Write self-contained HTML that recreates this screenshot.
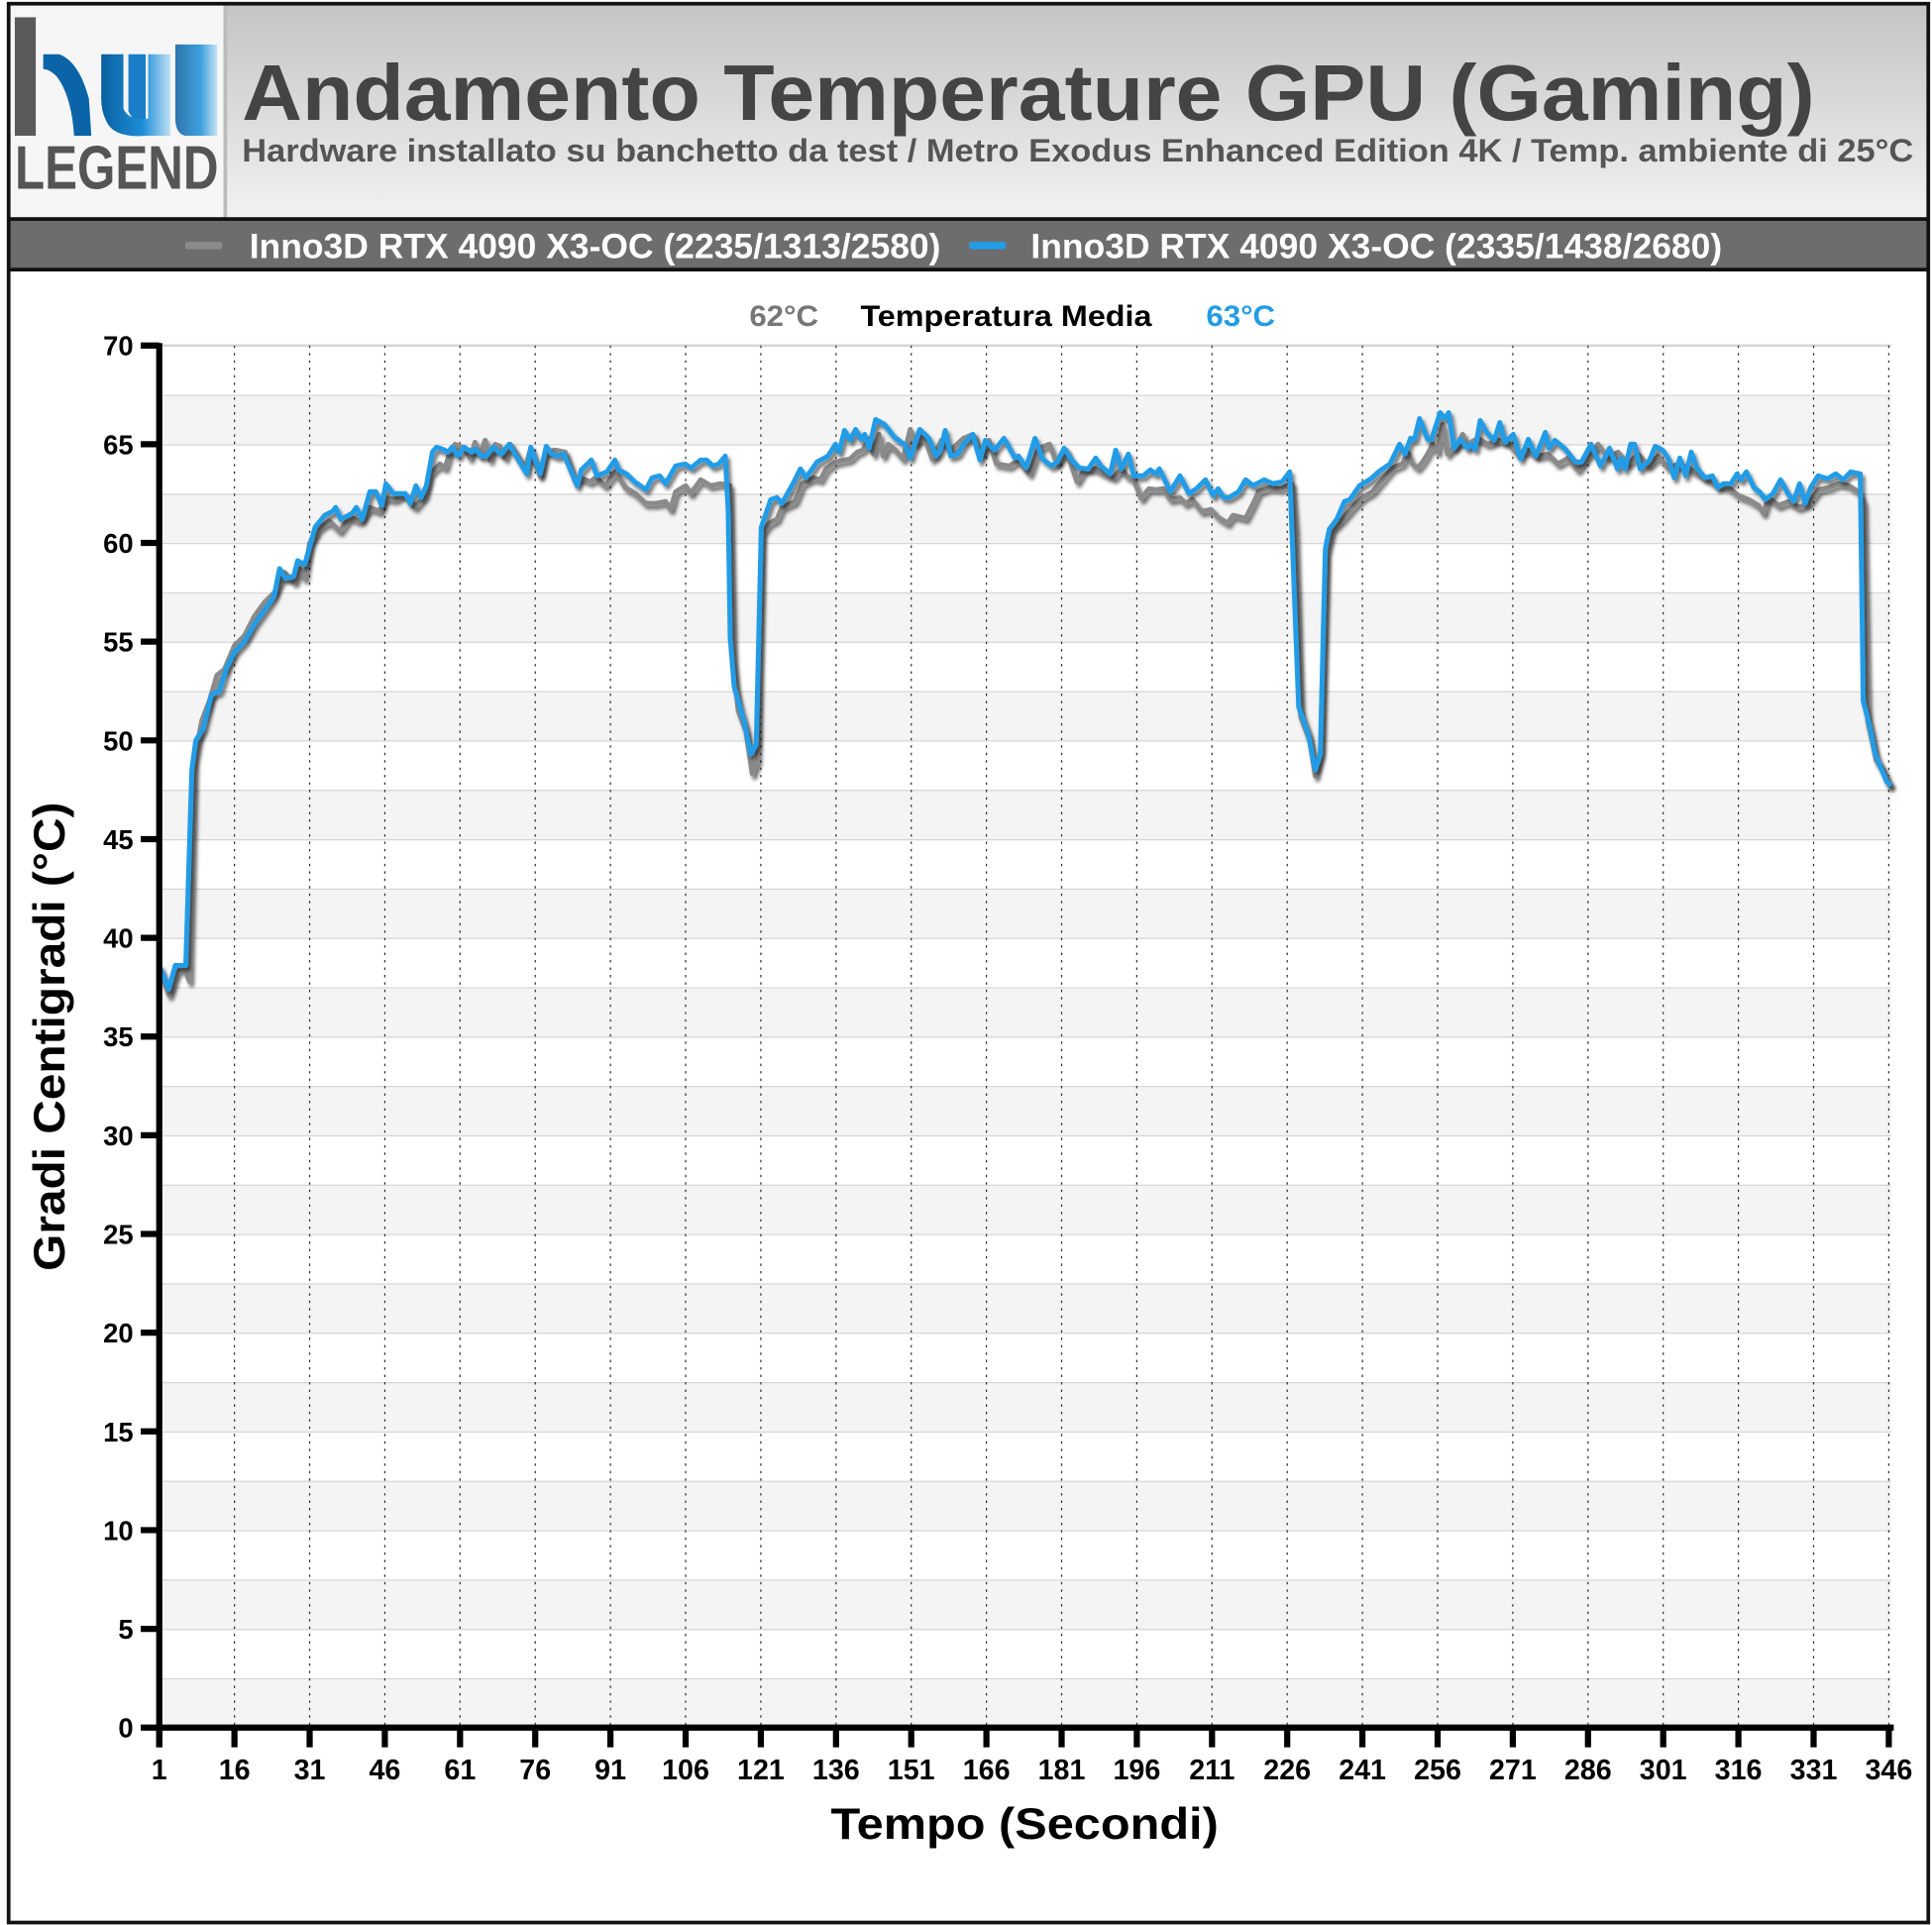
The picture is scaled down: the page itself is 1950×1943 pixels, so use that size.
<!DOCTYPE html>
<html><head><meta charset="utf-8">
<style>
html,body{margin:0;padding:0;background:#fff;}
svg{display:block;}
text{font-family:"Liberation Sans",Arial,sans-serif;font-weight:bold;}
</style></head>
<body>
<svg id="chart" width="1950" height="1943" viewBox="0 0 1565 1560" preserveAspectRatio="none" xmlns="http://www.w3.org/2000/svg">
<defs>
<linearGradient id="hdr" x1="0" y1="0" x2="0" y2="1"><stop offset="0" stop-color="#c4c4c4"/><stop offset="1" stop-color="#f2f2f2"/></linearGradient>
<linearGradient id="logoBlue" x1="0" y1="0" x2="1" y2="0"><stop offset="0" stop-color="#0a5fa0"/><stop offset="0.6" stop-color="#1d8fd8"/><stop offset="1" stop-color="#bfe0f5"/></linearGradient>
<filter id="sh" x="-5%" y="-5%" width="110%" height="110%"><feDropShadow dx="2" dy="3" stdDeviation="1.5" flood-color="#000" flood-opacity="0.55"/></filter>
</defs>
<rect x="0" y="0" width="1565" height="1560" fill="#fff"/>
<rect x="7" y="3" width="1555" height="175" fill="url(#hdr)"/>
<g>
<rect x="7" y="3" width="176" height="175" fill="#f6f6f6"/>
<rect x="181" y="3" width="3" height="175" fill="#bbb"/>
<rect x="12" y="14" width="17" height="96" fill="#5a5a5a"/>
<path d="M35 44 L48 44 Q64 50 72 80 L74 110 L60 110 Q58 78 46 62 Q40 56 35 56 Z" fill="#0b64a8"/>
<path d="M90 44 L104 44 L104 90 Q108 100 118 98 L118 44 L132 44 Q120 40 132 44 L132 44 Z" fill="#1a7fc8"/>
<path d="M82 44 L100 44 L100 88 Q104 98 120 96 L120 44 L138 44 L138 110 L118 110 Q92 112 86 98 Q82 90 82 80 Z" fill="url(#logoBlue)"/>
<path d="M142 36 L176 36 L176 110 L150 110 Q142 108 142 96 Z" fill="url(#logoBlue)" opacity="0.85"/>
<text x="12" y="153" font-size="50" fill="#555" textLength="165" lengthAdjust="spacingAndGlyphs">LEGEND</text>
</g>
<text x="196" y="97" font-size="64" fill="#444" textLength="1274" lengthAdjust="spacingAndGlyphs">Andamento Temperature GPU (Gaming)</text>
<text x="196" y="131" font-size="26" fill="#555" textLength="1354" lengthAdjust="spacingAndGlyphs">Hardware installato su banchetto da test / Metro Exodus Enhanced Edition 4K / Temp. ambiente di 25°C</text>
<rect x="7" y="178" width="1555" height="41" fill="#6d6d6d"/>
<rect x="7" y="176" width="1555" height="3" fill="#111"/>
<rect x="7" y="217" width="1555" height="3" fill="#111"/>
<g>
<rect x="150" y="196" width="30" height="6" rx="2" fill="#8a8a8a"/>
<text x="202" y="209" font-size="28" fill="#fff" textLength="560" lengthAdjust="spacingAndGlyphs">Inno3D RTX 4090 X3-OC (2235/1313/2580)</text>
</g>
<g>
<rect x="785" y="196" width="30" height="6" rx="2" fill="#239ce6"/>
<text x="835" y="209" font-size="28" fill="#fff" textLength="560" lengthAdjust="spacingAndGlyphs">Inno3D RTX 4090 X3-OC (2335/1438/2680)</text>
</g>
<text x="607" y="264" font-size="24" fill="#777" textLength="56" lengthAdjust="spacingAndGlyphs">62°C</text>
<text x="697" y="264" font-size="24" fill="#000" textLength="236" lengthAdjust="spacingAndGlyphs">Temperatura Media</text>
<text x="977" y="264" font-size="24" fill="#239ce6" textLength="56" lengthAdjust="spacingAndGlyphs">63°C</text>
<g id="plot"></g>
<text transform="translate(52,840) rotate(-90)" text-anchor="middle" font-size="36" fill="#000" textLength="380" lengthAdjust="spacingAndGlyphs">Gradi Centigradi (°C)</text>
<text x="830" y="1490" text-anchor="middle" font-size="36" fill="#000" textLength="314" lengthAdjust="spacingAndGlyphs">Tempo (Secondi)</text>
<rect x="7" y="3" width="1555" height="1555" fill="none" stroke="#111" stroke-width="3"/>
</svg>
<script>
const xTickLabels = [1,16,31,46,61,76,91,106,121,136,151,166,181,196,211,226,241,256,271,286,301,316,331,346];
const yTickLabels = [0,5,10,15,20,25,30,35,40,45,50,55,60,65,70];
const blueTimes = [1,2.9,4.2,6.3,7.5,8.3,9.8,11.4,13,14.5,16.1,18,20,22.3,23.9,25,26.2,27.8,28.6,30,32.1,34,35.6,36.2,37.2,39.5,40.3,41.5,43,44.2,45.4,46.2,47.7,48.9,50.1,51.1,52.2,53.2,54.3,55.5,56.3,57.5,58.6,59.4,60.6,61.8,63.3,64.1,65.3,66.2,67.6,69.2,70.8,72.7,74.3,75.1,77,78.2,79.3,80.5,81.7,84.4,85.2,87.2,88.3,90.3,91.9,92.6,94.2,95.8,98.1,99.3,100.8,102,104,105.9,107.1,109,110.2,111.4,112.6,113.9,114.5,114.9,115.7,117.6,119,120.1,121.1,123,124.2,125.2,127.4,128.9,130,132.2,134.4,135.9,136.6,137.7,138.8,139.9,141,141.7,142.6,143.9,145.7,147.5,149,149.7,150.8,152.7,154.5,156,156.8,157.8,158.9,160.3,161.4,163.3,164.7,165.8,167.6,169.5,170.6,171.7,172.4,173.9,175.7,177.2,179,180.1,181.5,183,184.5,186.3,187.8,188.8,190.7,191.8,192.9,194.3,195.4,197.3,198.7,199.8,200.5,202.7,204.6,206.4,207.9,209.7,211.2,212.2,213.3,214.4,216.3,217.7,219.2,221.4,223.2,225,226.5,228.3,230.2,231.6,232.6,233.6,234.4,235.9,237.4,238.5,240.4,242.7,244.2,246.5,248.4,249.5,250.6,251.4,252.4,254,254.8,256.5,257.4,258.2,259.3,260.5,262,262.7,263.5,264.5,265.8,267.3,268.4,269.5,271.1,272.6,274.1,275.6,277.5,278.2,279.4,281.3,283.5,284.7,286.6,288.5,290.3,291.9,292.6,293.4,294.5,295.3,296.4,298.3,299.4,300.9,302.1,303.2,304.3,305.5,306.6,307.7,309.3,310.8,311.9,313,314.5,315.7,316.5,317.6,319.1,320.2,321.4,322.9,324.4,325.9,327,328.2,329.3,330.4,331.9,333.8,335.4,336.9,338.4,340.3,340.9,342.2,343.3,345.6,346.5];
const blueValues = [38.6,37.4,38.6,38.6,48.5,50.0,50.6,52.3,52.5,53.7,54.5,55,55.9,56.7,57.3,58.7,58.2,58.3,59.1,58.9,60.8,61.4,61.6,61.8,61.2,61.5,61.8,61.2,62.6,62.6,61.9,63,62.5,62.5,62.5,62,62.9,62.3,62.9,64.6,64.85,64.75,64.6,64.85,64.4,64.85,64.6,64.75,64.4,64.4,64.85,64.5,65,64.2,63.5,64.85,63.5,64.9,64.5,64.4,64.5,62.9,63.7,64.2,63.4,63.6,64.2,63.7,63.5,63.1,62.7,63.3,63.4,63,63.9,64,63.8,64.2,64.2,63.9,64,64.4,61.6,55.2,52.7,51,49.3,49.8,60.8,62.2,62.3,62.0,63.0,63.75,63.3,64.1,64.4,65,64.6,65.7,65.2,65.75,65.25,65.5,64.8,66.25,66,65.4,65.1,65,64.3,65.75,65.3,64.4,64.7,65.7,64.4,64.5,65,65.5,64.2,65.2,64.7,65.3,64.8,64.3,64.4,63.8,65.3,64.25,63.9,64.1,64.8,64.2,63.8,63.75,64.3,63.9,63.5,64.7,63.75,64.5,63.4,63.4,63.7,63.5,63.75,62.6,63.4,62.5,62.75,63.2,62.4,62.75,62.3,62.3,62.6,63.2,62.9,63.2,63,63.1,63.6,51.7,50.3,48.5,49.3,59.7,60.7,61.2,62.1,62.2,62.9,63.25,63.6,64,65,64.5,65.3,65.25,66.3,65.25,65.25,66.6,66.3,66.6,64.8,65.25,64.8,65,64.75,66.2,65.6,65.2,66.1,65.1,65.5,64.25,65.25,64.4,65.6,64.8,65.2,64.8,64.1,64.1,65,63.9,64.8,63.75,64.3,63.75,65,65,63.75,64.2,64.9,64.7,64.25,63.3,64.3,63.4,64.6,63.8,63.3,63.4,62.8,63,63,63.5,63.2,63.6,62.8,62.6,62.2,62.5,63.2,62.5,62.1,63,62,62.8,63.4,63.25,63.5,63.2,63.6,63.5,52,50.7,49.3,47.9,47.7];
const grayTimes = [1,3,4.5,6,7,8,9.5,11,12.5,14,16,18,20,22,24,25,26,28,29,30,31,33,35,37,39,41,43,45,46,48,50,52,54,55,57,58,59,60,62,63,64,65,66,67,68,69,70,71,72,74,75,77,78,80,82,84,85,87,88,90,92,94,96,98,100,102,103,104,106,107,109,111,113,114.8,115.5,116.5,118,119.3,120.3,121.2,122.7,124.2,125.2,127.8,129.3,131.5,132.9,134,135.9,138.8,140.2,141.3,142.8,143.5,144.6,145.4,146.4,147.9,149.4,150.8,151.9,153.4,155.2,157,158.9,161.4,163.3,165.1,166.5,168,170.6,172.4,174.6,176.4,178.6,180.1,181.9,184.1,185.6,187.8,189.6,191.4,192.9,194,195.4,196.9,198.4,199.8,201.3,202.7,204.6,205.7,207.1,208.9,210.8,212.2,214.1,215.2,217.7,219.2,220.3,222.5,224.7,226.9,227.6,228.7,230.5,231.6,232.7,233.8,235,237,239,241,243,245,247,249,250,251,252,253,254,255,256,257,258,259,260,261,262,264,266,268,270,272,274,276,278,280,282,284,286,288,290,292,294,296,298,300,302,304,306,308,310,312,314,316,318,320,321,322,324,326,328,330,332,334,336,338,340,341,341.8,343.5,345,346.5];
const grayValues = [38.4,37.1,38.3,38.5,37.8,49,51,52,53.3,53.6,54.8,55.3,56.3,57,57.5,58,58.5,58.0,58.7,58.2,60,60.8,61.1,60.6,61.3,61.1,61.8,61.6,62.3,62.2,62.5,61.8,62.4,63.5,64.0,63.8,64.6,65.0,64.8,64.3,65.1,64.5,65.2,64.2,65.0,64.9,64.3,65.0,64.6,63.8,64.7,63.4,64.6,64.7,64.6,63.1,63.3,63.1,63.3,62.9,63.6,62.8,62.5,62.0,62.0,62.1,61.7,62.6,62.9,62.5,63.2,62.9,63.0,62.9,54,51.5,50.5,48.3,49.0,60.5,61,61.2,61.8,62.1,63,63.3,63.2,63.75,64.1,64.25,64.6,64.7,65.3,64.5,65.5,64.4,65,64.7,64.25,65.75,65,65.5,64.25,65.2,64.7,65.3,65.5,64.5,65.2,64,63.9,64.2,63.5,64.8,65,64,64.7,63.1,63.75,63.75,63.5,63.3,63.75,63.4,63.2,62.25,62.75,62.7,62.75,62.2,62.3,62,62.2,61.6,61.7,61.3,61,61.4,61.25,62,62.6,62.8,62.75,63,60.7,51.2,50,48.2,49.5,59.5,60.7,61.2,61.8,62.3,62.6,63.2,63.8,64.0,64.6,64.0,63.8,64.1,64.5,65.0,64.6,66.0,64.5,64.8,65.0,65.5,65.0,65.3,65.0,65.2,65.1,64.5,64.7,64.4,64.5,64.0,64.3,63.7,64.4,65.0,64.3,64.6,64.0,64.5,63.9,64.4,63.8,64.0,63.8,63.5,63.2,62.9,62.8,62.4,62.2,61.9,61.5,62.3,61.9,62.1,61.8,62.0,62.7,62.8,63.0,62.9,62.6,62.0,51,49.0,48.5,47.6];

const NS = 'http://www.w3.org/2000/svg';
const plot = document.getElementById('plot');
const X0 = 129, X1 = 1530, Y0 = 1400, Y1 = 280;
function xScale(t){ return X0 + (t - 1) * (X1 - X0) / 345; }
function yScale(v){ return Y0 - v * (Y0 - Y1) / 70; }
function mk(tag, attrs){ const e = document.createElementNS(NS, tag); for (const k in attrs) e.setAttribute(k, attrs[k]); plot.appendChild(e); return e; }

for (let k = 0; k < 28; k++) {
  const top = yScale((k + 1) * 2.5), bot = yScale(k * 2.5);
  const r = mk('rect', {x: X0 + 2, y: top, width: 1532 - X0 - 2, height: bot - top, fill: k % 2 === 0 ? '#f4f4f4' : '#ffffff'});
  
  
  const l = mk('line', {x1: X0 + 2, x2: 1532, y1: top, y2: top, stroke: '#d6d6d6', 'stroke-width': 2});
  
  
}
xTickLabels.forEach(function(t){
  if (t === 1) return;
  const l = mk('line', {x1: xScale(t), x2: xScale(t), y1: Y1, y2: Y0, stroke: '#333', 'stroke-width': 1, 'stroke-dasharray': '2,4'});
  
  
});
function series(times, vals, color, name){
  let d = '';
  for (let i = 0; i < times.length; i++) d += (i ? 'L' : 'M') + xScale(times[i]).toFixed(1) + ' ' + yScale(vals[i]).toFixed(1);
  const p = mk('path', {d: d, fill: 'none', stroke: color, 'stroke-width': 4, 'stroke-linejoin': 'round', filter: 'url(#sh)'});
  
  
}
series(grayTimes, grayValues, '#8a8a8a', 'series-gray-line');
series(blueTimes, blueValues, '#239ce6', 'series-blue-line');
const ya = mk('line', {x1: X0, x2: X0, y1: Y1 - 2, y2: Y0 + 16, stroke: '#000', 'stroke-width': 5});


const xa = mk('line', {x1: X0 - 2, x2: 1534, y1: Y0, y2: Y0, stroke: '#000', 'stroke-width': 5});


yTickLabels.forEach(function(v){
  const y = yScale(v);
  const tk = mk('line', {x1: X0 - 15, x2: X0, y1: y, y2: y, stroke: '#000', 'stroke-width': 5});
  
  
  const tx = mk('text', {x: 108, y: y + 8, 'text-anchor': 'end', 'font-size': 22, fill: '#000'});
  tx.textContent = v;
  
  
});
xTickLabels.forEach(function(t){
  const x = xScale(t);
  const tk = mk('line', {x1: x, x2: x, y1: Y0, y2: Y0 + 16, stroke: '#000', 'stroke-width': 5});
  
  
  const tx = mk('text', {x: x, y: 1442, 'text-anchor': 'middle', 'font-size': 23, fill: '#000'});
  tx.textContent = t;
  
  
});
</script>
</body></html>
